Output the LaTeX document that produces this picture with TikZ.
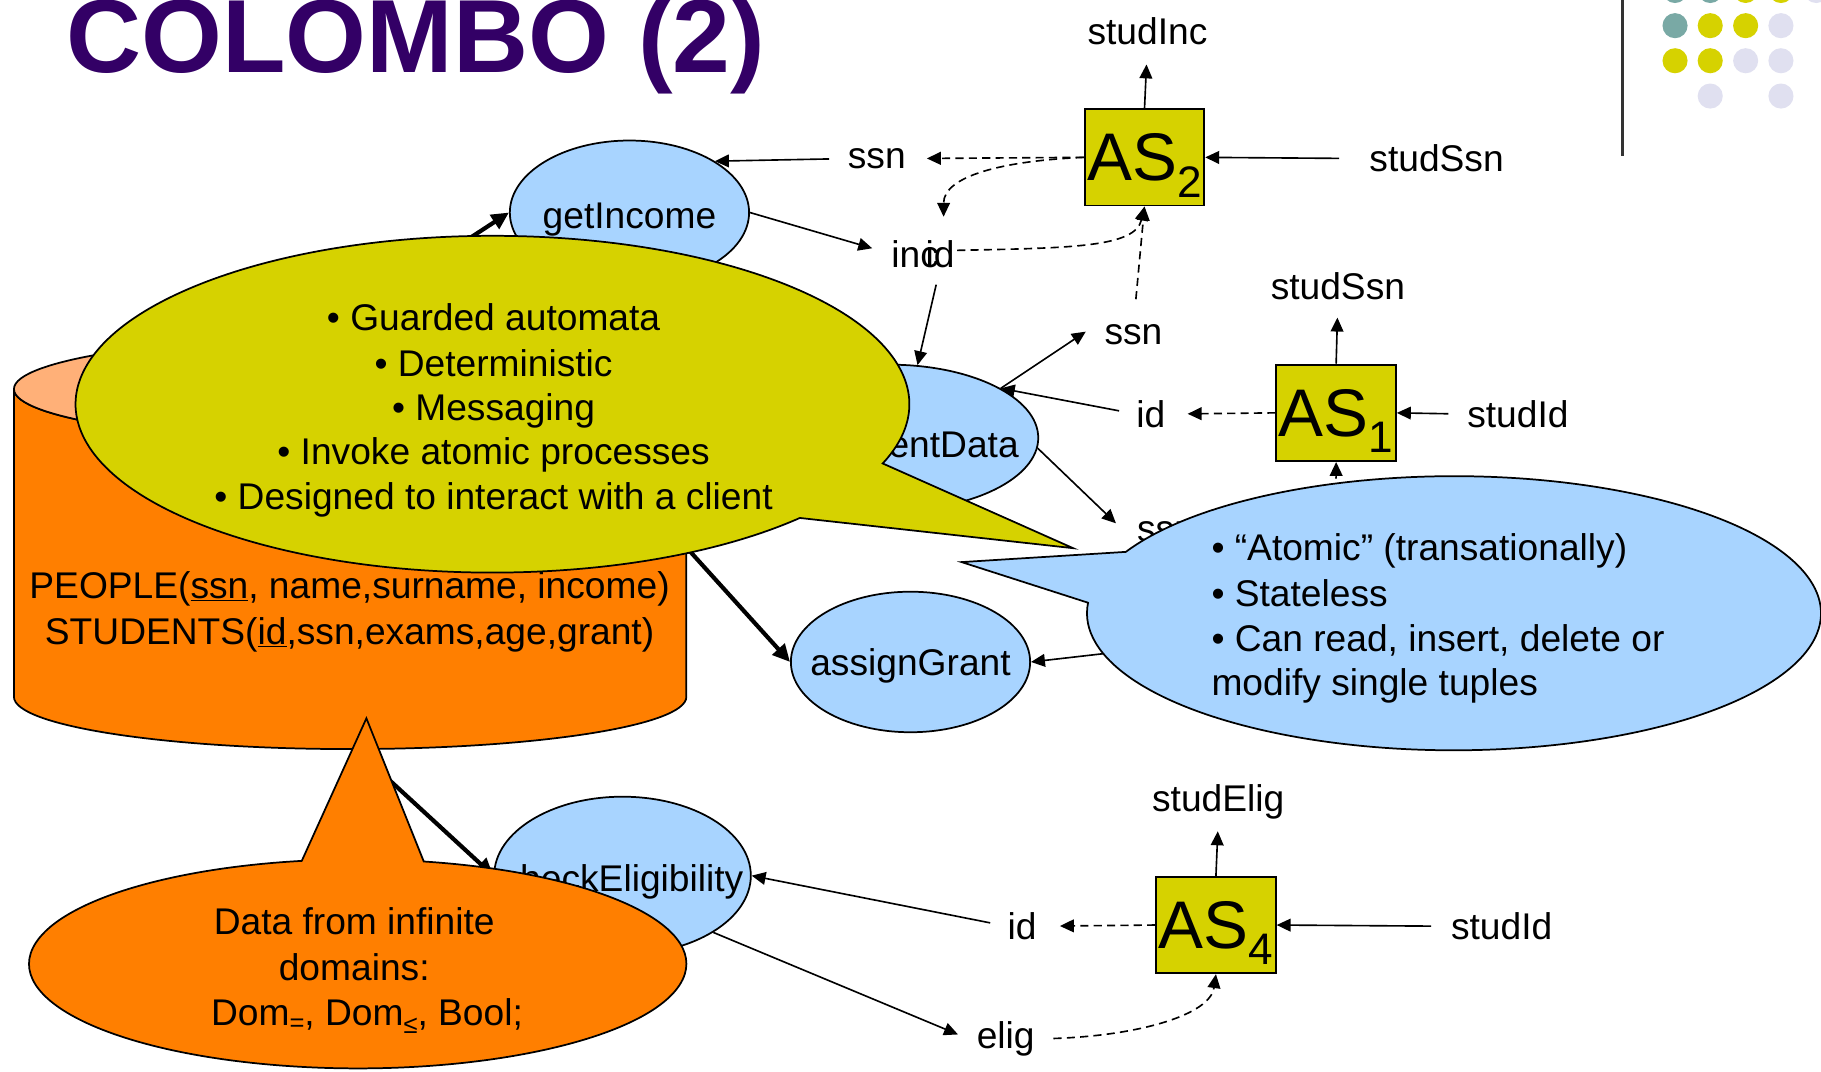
\documentclass[tikz,border=0pt]{standalone}
\usepackage{fontspec}
\setmainfont{Liberation Sans}
\usetikzlibrary{arrows.meta,shapes.geometric,calc}
\definecolor{ttl}{RGB}{51,0,102}
\definecolor{ylw}{RGB}{214,210,0}
\definecolor{pblue}{RGB}{168,212,255}
\definecolor{orng}{RGB}{255,127,0}
\definecolor{ltorng}{RGB}{255,176,120}
\definecolor{tealdot}{RGB}{121,169,165}
\definecolor{lav}{RGB}{224,224,240}
\newcommand{\ptxt}[2]{\makebox[0pt]{\smash{\raisebox{-#1pt}{#2}}}}
\begin{document}
\begin{tikzpicture}[x=1pt,y=-1pt,
  ln/.style={line width=1.4pt,-{Triangle[length=12pt,width=11pt]}},
  dsh/.style={ln,dash pattern=on 7pt off 4.5pt},
  thk/.style={line width=3.6pt,-{Triangle[length=15pt,width=14pt]}},
  proc/.style={ellipse,draw,line width=1.5pt,fill=pblue,inner sep=0pt,font=\fontsize{32}{38}\selectfont},
  asbox/.style={draw,line width=1.6pt,fill=ylw,minimum width=103pt,minimum height=83pt,inner sep=0pt,text depth=0pt,font=\fontsize{58}{60}\selectfont},
  lbl/.style={font=\fontsize{32}{38}\selectfont,inner sep=0pt,anchor=base},
  txt/.style={font=\fontsize{32}{38}\selectfont,inner sep=0pt,anchor=base},
  txtl/.style={font=\fontsize{32}{38}\selectfont,inner sep=0pt,anchor=base west},
  callout/.style={draw=black,line width=1.5pt}]
\useasboundingbox (0,0) rectangle (1568,923);
\fill[white] (0,0) rectangle (1568,923);

% decoration
\draw[line width=2pt,black!80] (1397,0) -- (1397,134);
\foreach \px/\py/\c in {1442.3/-8.2/tealdot,1472.6/-8.2/tealdot,1503.1/-8.2/ylw,1533.5/-8.2/ylw,1563.9/-8.2/lav,
  1442.3/22.1/tealdot,1472.6/22.1/ylw,1503.1/22.1/ylw,1533.5/22.1/lav,
  1442.3/52.3/ylw,1472.6/52.3/ylw,1503.1/52.3/lav,1533.5/52.3/lav,
  1472.6/82.7/lav,1533.5/82.7/lav}
  \fill[\c] (\px,\py) circle[radius=10.8];

% title
\node[anchor=base west,inner sep=0pt,text=ttl,font=\fontsize{89.5}{90}\selectfont\bfseries] (title) at (57,62) {COLOMBO (2)};

% processes
\node[proc,minimum width=206pt,minimum height=124pt] (gi) at (542,183) {\ptxt{14}{getIncome}};
\node[proc,minimum width=256pt,minimum height=126pt] (gsd) at (766,377) {\ptxt{17}{getStudentData}};
\node[proc,minimum width=206pt,minimum height=121pt] (ag) at (784,570) {\ptxt{12}{assignGrant}};
\node[proc,minimum width=221pt,minimum height=136pt] (ce) at (536,754) {\ptxt{14}{checkEligibility}};

% AS boxes
\node[asbox] (as2) at (985.5,135.5) {AS\raisebox{-14pt}{\fontsize{38}{40}\selectfont 2}};
\node[asbox] (as1) at (1150.5,355.5) {AS\raisebox{-14pt}{\fontsize{38}{40}\selectfont 1}};
\node[asbox] (as4) at (1047,796.5) {AS\raisebox{-14pt}{\fontsize{38}{40}\selectfont 4}};

% labels
\node[lbl] (studInc) at (988,38) {studInc};
\node[lbl] (ssnA) at (755,145) {ssn};
\node[lbl] (studSsnA) at (1237,148) {studSsn};
\node[lbl] (incL) at (788,230) {inc};
\node[lbl] (idA) at (809.5,230) {id};
\node[lbl] (ssnB) at (976,297) {ssn};
\node[lbl] (studSsnB) at (1152,258) {studSsn};
\node[lbl] (idB) at (991,368) {id};
\node[lbl] (studIdB) at (1307,368) {studId};
\node[lbl] (ssnC) at (1004,466) {ssn};
\node[lbl] (studElig) at (1049,699) {studElig};
\node[lbl] (idC) at (880,809) {id};
\node[lbl] (studIdC) at (1293,809) {studId};
\node[lbl] (elig) at (866,903) {elig};
\coordinate (agsrc) at (1010,556);

% connectors AS2
\draw[ln,shorten >=17pt] (as2.north) -- (studInc.south);
\draw[ln,shorten <=26pt] (studSsnA.west) -- (as2.east);
\draw[dsh,shorten >=18pt] (as2.west) -- (ssnA.east);
\draw[dsh] (as2.west) .. controls +(-70,3) and +(0,-35) .. ($(idA.north)+(3,-20)$);
\draw[dsh] ($(idA.east)+(2,-3)$) .. controls +(100,-2) and +(-8,35) .. (as2.south);
\draw[dsh,shorten <=22pt] (ssnB.north) -- (as2.south);
\draw[ln,shorten >=17pt] (gi.east) -- (incL.west);
\draw[ln,shorten <=16pt] (ssnA.west) -- (gi.31);
\draw[ln,shorten <=15pt] (idA.south) -- (gsd.69);
\draw[ln] (gsd.24) -- ($(ssnB.west)+(-16,-3)$);
\draw[ln,shorten <=15pt] (idB.west) -- (gsd.24);
\draw[ln] (gsd.-4) -- ($(ssnC.north west)+(-18,2)$);
% AS1
\draw[dsh,shorten >=19pt] (as1.west) -- (idB.east);
\draw[ln,shorten <=16pt] (studIdB.west) -- (as1.east);
\draw[ln,shorten >=15pt] (as1.north) -- (studSsnB.south);
\draw[dsh] (ssnC.east) .. controls +(70,-5) and +(0,45) .. (as1.south);
\draw[ln] (agsrc) -- (ag.east);
% AS4
\draw[ln,shorten <=15pt] (idC.west) -- (ce.east);
\draw[ln] (ce.-32) -- ($(elig.west)+(-16,-4)$);
\draw[dsh,shorten >=20pt] (as4.west) -- (idC.east);
\draw[ln,shorten <=17pt] (studIdC.west) -- (as4.east);
\draw[ln,shorten >=10pt] (as4.north) -- (studElig.south);
\draw[dsh,shorten <=16pt] (elig.east) .. controls +(90,-3) and +(-5,35) .. (as4.south);

% database cylinder
\filldraw[fill=orng,line width=1.5pt] (12,335) -- (12,600)
  arc[start angle=180,end angle=0,x radius=289.5,y radius=45] -- (591,335)
  arc[start angle=0,end angle=180,x radius=289.5,y radius=45] -- cycle;
\filldraw[fill=ltorng,line width=1.5pt] (301.5,335) ellipse[x radius=289.5,y radius=45];
\node[txt] (people) at (301,515) {PEOPLE(\underline{ssn}, name,surname, income)};
\node[txt] (students) at (301,555) {STUDENTS(\underline{id},ssn,exams,age,grant)};
\coordinate (dbA) at (259,300);
\coordinate (dbB) at (560,437);
\coordinate (dbC) at (313.7,651.8);
\draw[thk] (dbA) -- (gi.west);
\draw[thk] (dbB) -- (ag.west);
\draw[thk] (dbC) -- (ce.west);

% yellow callout
\filldraw[fill=ylw,callout] (688.7,446.0) arc[start angle=42.5,end angle=380.6,x radius=359,y radius=145] -- (924,472) -- cycle;
\node[txt] (y1) at (425,285) {• Guarded automata};
\node[txt] (y2) at (425,324) {• Deterministic};
\node[txt] (y3) at (425,362) {• Messaging};
\node[txt] (y4) at (425,400) {• Invoke atomic processes};
\node[txt] (y5) at (425,439) {• Designed to interact with a client};

% blue callout
\filldraw[fill=pblue,callout] (969.4,475.2) arc[start angle=206.6,end angle=544.4,x radius=316,y radius=118] -- (828,484) -- cycle;
\node[txtl] (b1) at (1043,483) {• “Atomic” (transationally)};
\node[txtl] (b2) at (1043,522) {• Stateless};
\node[txtl] (b3) at (1043,561) {• Can read, insert, delete or};
\node[txtl] (b4) at (1043,599) {modify single tuples};

% orange callout
\filldraw[fill=orng,callout] (364.9,741.8) arc[start angle=281.6,end angle=620.2,x radius=283,y radius=90] -- (315.5,618.5) -- cycle;
\node[txt] (o1) at (305,805) {Data from infinite};
\node[txt] (o2) at (305,844) {domains:};
\node[txt] (o3) at (316,883) {Dom\raisebox{-5pt}{\fontsize{22}{22}\selectfont =}, Dom\raisebox{-7pt}{\fontsize{22}{22}\selectfont ≤}, Bool;};
\end{tikzpicture}
\end{document}
